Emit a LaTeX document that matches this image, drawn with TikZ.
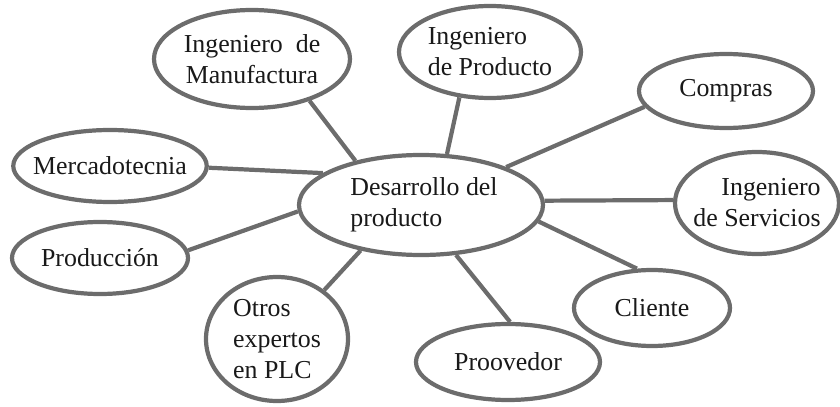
\documentclass[tikz,border=0pt]{standalone}
\usepackage{fontspec}
\setmainfont{Liberation Serif}
\usetikzlibrary{shapes.geometric}
\definecolor{rimgray}{RGB}{108,108,108}
\begin{document}
\begin{tikzpicture}[
            font=\fontsize{18.4}{22}\selectfont,
            bubble/.style={ellipse,draw=rimgray,line width=3pt,fill=white,inner sep=-6pt,text=black!90},
            link/.style={draw=rimgray,line width=3pt}
        ]
        \useasboundingbox (0,0) rectangle (21,10.15);

        \node[bubble,minimum width=6.1cm,minimum height=2.5cm,align=left] (dev) at (10.525,5.025) {\hspace{0.15cm}Desarrollo del\\\hspace{0.15cm}producto};

        \node[bubble,minimum width=4.9cm,minimum height=2.45cm,align=center] (manu) at (6.3,8.675) {Ingeniero\ \ de\\Manufactura};
        \node[bubble,minimum width=4.55cm,minimum height=2.3cm,align=left] (prod) at (12.25,8.85) {Ingeniero\\de Producto};
        \node[bubble,minimum width=4.35cm,minimum height=1.85cm] (comp) at (18.15,7.875) {Compras};
        \node[bubble,minimum width=4.1cm,minimum height=2.55cm,align=right] (serv) at (18.925,5.075) {Ingeniero\\de Servicios};
        \node[bubble,minimum width=3.9cm,minimum height=1.9cm] (cli) at (16.3,2.45) {Cliente};
        \node[bubble,minimum width=4.6cm,minimum height=1.9cm] (prov) at (12.7,1.1) {Proovedor};
        \node[bubble,minimum width=3.55cm,minimum height=3.1cm,align=left] (otros) at (6.925,1.675) {Otros\\expertos\\en PLC};
        \node[bubble,minimum width=4.4cm,minimum height=1.8cm] (pcn) at (2.5,3.7) {Producción};
        \node[bubble,minimum width=4.8cm,minimum height=1.8cm] (merc) at (2.75,6.0) {Mercadotecnia};

        % spokes
        \draw[link] (dev.146) -- (manu.-36);
        \draw[link] (dev.63) -- (prod.-124);
        \draw[link] (dev.24) -- (comp.-169);
        \draw[link] (dev.2) -- (serv.178);
        \draw[link] (dev.-8) -- (cli.111);
        \draw[link] (dev.-55) -- (prov.87);
        \draw[link] (dev.-143) -- (otros.46);
        \draw[link] (dev.-177) -- (pcn.5);
        \draw[link] (dev.162) -- (merc.-1);
    \end{tikzpicture}
\end{document}
